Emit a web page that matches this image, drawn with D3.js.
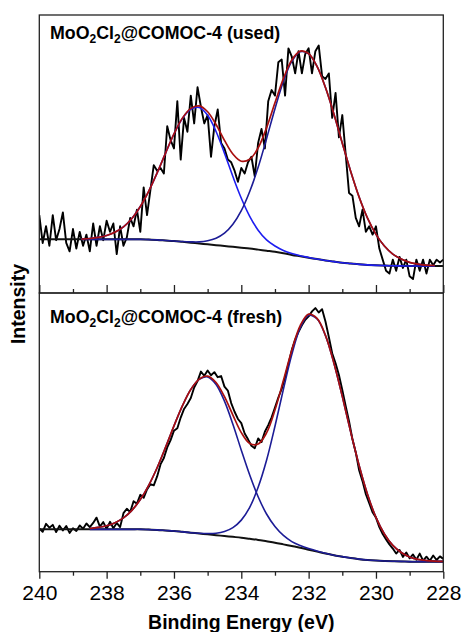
<!DOCTYPE html>
<html>
<head>
<meta charset="utf-8">
<script src="https://cdn.jsdelivr.net/npm/d3@7"></script>
<style>
  html, body { margin: 0; padding: 0; background: #fff; }
  svg { display: block; }
  text { font-family: Arial, "Liberation Sans", Helvetica, sans-serif; }
</style>
</head>
<body>
<svg id="chart" width="463" height="632"></svg>
<script>
// ---- Mo 3d spectra, measured counts (arbitrary units), 240.0 -> 228.0 eV in 0.1 eV steps ----
const rawStart = 240.0;
const rawStep = 0.1;

const rawUsed = [
  28, 18, 24, 17, 28, 19, 23, 29, 18, 15,
  23, 16, 22, 17, 21, 15, 25, 17, 24, 19,
  26, 22, 25, 14, 24, 17, 20, 27, 24, 30,
  22, 38, 28, 37, 46, 44, 45, 43, 60, 55,
  52, 69, 48, 63, 58, 71, 61, 74, 67, 61,
  64, 49, 60, 66, 54, 52, 48, 47, 44, 40,
  45, 43, 47, 49, 42, 54, 59, 52, 69, 73,
  71, 83, 84, 71, 88, 85, 79, 87, 79, 86,
  88, 79, 87, 89, 78, 77, 79, 63, 72, 56,
  64, 50, 36, 35, 27, 24, 30, 22, 24, 21,
  24, 16, 12, 8, 7, 12, 8, 13, 9, 12,
  6, 5, 12, 8, 12, 7, 12, 10, 12, 11,
  12
];

const rawFresh = [
  15.5, 14.3, 17.2, 15.8, 16.8, 14.2, 16.5, 14.8, 16.4, 13.9,
  15.6, 14.6, 16.6, 15.4, 17.3, 16.0, 17.5, 19.4, 16.2, 17.8,
  15.4, 17.9, 15.6, 17.5, 16.0, 21.0, 22.6, 21.4, 25.3, 24.4,
  27.6, 26.5, 29.5, 31.4, 31.0, 34.2, 38.5, 40.8, 44.6, 47.2,
  50.6, 51.5, 55.3, 58.4, 60.2, 62.3, 66.1, 68.4, 71.8, 70.3,
  72.2, 70.5, 71.6, 69.8, 70.2, 66.4, 65.0, 60.5, 57.4, 54.8,
  53.3, 49.6, 47.5, 45.2, 44.3, 47.8, 46.5, 50.2, 52.6, 55.4,
  58.9, 62.5, 65.6, 69.8, 74.5, 79.6, 83.3, 86.1, 88.4, 90.4,
  91.6, 93.4, 94.6, 93.0, 94.2, 89.8, 84.2, 78.4, 74.8, 70.6,
  65.2, 59.5, 54.0, 47.6, 42.8, 36.4, 32.5, 27.8, 24.6, 21.3,
  19.4, 16.0, 13.5, 11.6, 9.8, 8.3, 6.5, 7.8, 5.3, 6.9,
  4.8, 6.2, 4.3, 6.5, 4.0, 5.4, 3.9, 5.8, 4.2, 5.5,
  4.6
];

// ---- Fit results sampled every 0.25 eV (null = outside the fitted window) ----
const curveEnergy = [
  240, 239.75, 239.5, 239.25, 239, 238.75, 238.5, 238.25, 238, 237.75,
  237.5, 237.25, 237, 236.75, 236.5, 236.25, 236, 235.75, 235.5, 235.25,
  235, 234.75, 234.5, 234.25, 234, 233.75, 233.5, 233.25, 233, 232.75,
  232.5, 232.25, 232, 231.75, 231.5, 231.25, 231, 230.75, 230.5, 230.25,
  230, 229.75, 229.5, 229.25, 229, 228.75, 228.5, 228.25, 228
];

// used sample
const backgroundUsed = [
  19.3, 19.3, 19.3, 19.3, 19.3, 19.3, 19.3, 19.3, 19.3, 19.3,
  19.3, 19.3, 19.3, 19.2, 19.1, 18.9, 18.7, 18.4, 18.1, 17.8,
  17.5, 17.2, 16.9, 16.6, 16.3, 16.0, 15.6, 15.2, 14.8, 14.3,
  13.7, 13.2, 12.7, 12.2, 11.7, 11.3, 10.9, 10.6, 10.3, 10.1,
  9.95, 9.85, 9.8, 9.75, 9.7, 9.7, 9.7, 9.7, 9.7
];
const peakA_Used = [
  null, null, null, null, null, 19.4, 19.6, 20.0, 20.7, 21.9,
  23.8, 26.8, 31.1, 36.6, 43.2, 50.3, 57.2, 62.8, 66.1, 66.7,
  63.9, 58.1, 50.3, 41.9, 34.1, 27.6, 22.6, 19.1, 16.9, 15.3,
  14.2, 13.4, 12.8, 12.2, 11.7, 11.3, 10.9, 10.6, 10.3, 10.1,
  9.95, 9.85, 9.8, 9.75, 9.7, 9.7, 9.7, 9.7, null
];
const peakB_Used = [
  null, null, null, null, null, 19.3, 19.3, 19.3, 19.3, 19.3,
  19.3, 19.3, 19.3, 19.2, 19.1, 18.9, 18.7, 18.5, 18.4, 18.4,
  18.8, 19.7, 21.5, 24.7, 29.6, 36.5, 45.2, 55.5, 66.3, 76.1,
  83.3, 86.8, 86.0, 81.5, 73.9, 64.4, 53.9, 43.7, 34.5, 26.9,
  21.1, 16.9, 14.0, 12.2, 11.0, 10.4, 10.0, 9.9, null
];
const envelopeUsed = [
  null, null, null, null, null, 19.4, 19.6, 20.0, 20.7, 21.9,
  23.8, 26.8, 31.1, 36.6, 43.2, 50.3, 57.2, 62.9, 66.4, 67.3,
  65.2, 60.6, 54.9, 50.0, 47.4, 48.1, 52.2, 59.4, 68.4, 77.1,
  83.8, 87.0, 86.1, 81.5, 73.9, 64.4, 53.9, 43.7, 34.5, 26.9,
  21.1, 16.9, 14.0, 12.2, 11.0, 10.4, 10.0, 9.9, null
];

// fresh sample
const backgroundFresh = [
  15.2, 15.2, 15.2, 15.2, 15.2, 15.2, 15.2, 15.2, 15.2, 15.2,
  15.2, 15.2, 15.2, 15.1, 15.0, 14.8, 14.6, 14.3, 14.0, 13.7,
  13.4, 13.1, 12.8, 12.5, 12.2, 11.8, 11.4, 10.9, 10.4, 9.8,
  9.2, 8.6, 7.9, 7.2, 6.5, 5.9, 5.4, 4.9, 4.5, 4.2,
  4.0, 3.85, 3.75, 3.7, 3.6, 3.6, 3.6, 3.6, 3.6
];
const peakA_Fresh = [
  null, null, null, null, null, null, 15.5, 15.9, 16.5, 17.6,
  19.3, 22.0, 25.9, 31.0, 37.3, 44.6, 52.3, 59.5, 65.4, 69.0,
  69.9, 67.2, 61.2, 52.9, 43.6, 34.7, 26.9, 20.7, 16.2, 13.0,
  10.8, 9.4, 8.3, 7.4, 6.6, 5.9, 5.4, 4.9, 4.5, 4.2,
  4.0, 3.85, 3.75, 3.7, 3.6, 3.6, 3.6, 3.6, 3.6
];
const peakB_Fresh = [
  null, null, null, null, null, null, 15.2, 15.2, 15.2, 15.2,
  15.2, 15.2, 15.2, 15.1, 15.0, 14.8, 14.6, 14.3, 14.0, 13.8,
  13.7, 13.8, 14.4, 15.8, 18.5, 23.1, 30.3, 40.0, 52.2, 65.4,
  77.9, 87.5, 92.0, 90.7, 84.7, 74.9, 62.9, 50.1, 38.1, 27.7,
  19.5, 13.55, 9.45, 6.9, 5.3, 4.4, 4.0, 3.8, 3.7
];
const envelopeFresh = [
  null, null, null, null, null, null, 15.5, 15.9, 16.5, 17.6,
  19.3, 22.0, 25.9, 31.0, 37.3, 44.6, 52.3, 59.5, 65.4, 69.1,
  70.2, 67.9, 62.8, 56.2, 49.9, 46.0, 45.8, 49.8, 58.0, 68.6,
  79.5, 88.3, 92.4, 90.9, 84.8, 74.9, 62.9, 50.1, 38.1, 27.7,
  19.5, 13.55, 9.45, 6.9, 5.3, 4.4, 4.0, 3.8, 3.7
];

// ---- Axis ----
const xDomain = [240, 228];
const majorTicks = [240, 238, 236, 234, 232, 230, 228];
const minorTicks = [239, 237, 235, 233, 231, 229];
const xTitle = "Binding Energy (eV)";
const yTitle = "Intensity";

// ---- Layout ----
const svg = d3.select("#chart");
const left = 39.3, right = 443.3;
const topY = 15, midY = 293, bottomY = 571.7;

const x = d3.scaleLinear().domain(xDomain).range([left, right]);
const yUsed = d3.scaleLinear().domain([0, 100]).range([midY, topY]);
const yFresh = d3.scaleLinear().domain([0, 100]).range([bottomY, midY]);

const rawEnergy = rawUsed.map((_, i) => +(rawStart - i * rawStep).toFixed(2));

const defs = svg.append("defs");
defs.append("clipPath").attr("id", "clipUsed")
  .append("rect").attr("x", left).attr("y", topY).attr("width", right - left).attr("height", midY - topY);
defs.append("clipPath").attr("id", "clipFresh")
  .append("rect").attr("x", left).attr("y", midY).attr("width", right - left).attr("height", bottomY - midY);

const colors = {
  raw: "#000000",
  background: "#111111",
  envelope: "#A80F0F",
  peakBright: "#1E1EF0",
  peakDark: "#1C1C96"
};

function drawPanel(y, clipId, raw, bg, pA, pB, env, colA, colB) {
  const g = svg.append("g").attr("clip-path", `url(#${clipId})`);
  const rawLine = d3.line()
    .x((d, i) => x(rawEnergy[i]))
    .y(d => y(d))
    .curve(d3.curveLinear);
  const fitLine = vals => d3.line()
    .defined((d, i) => vals[i] !== null)
    .x((d, i) => x(curveEnergy[i]))
    .y((d, i) => y(vals[i]))
    .curve(d3.curveCatmullRom.alpha(0.5))(vals);

  g.append("path").attr("d", rawLine(raw))
    .attr("fill", "none").attr("stroke", colors.raw)
    .attr("stroke-width", 1.9).attr("stroke-linejoin", "round");
  g.append("path").attr("d", fitLine(bg))
    .attr("fill", "none").attr("stroke", colors.background).attr("stroke-width", 2);
  g.append("path").attr("d", fitLine(pA))
    .attr("fill", "none").attr("stroke", colA).attr("stroke-width", 1.6);
  g.append("path").attr("d", fitLine(pB))
    .attr("fill", "none").attr("stroke", colB).attr("stroke-width", 1.6);
  g.append("path").attr("d", fitLine(env))
    .attr("fill", "none").attr("stroke", colors.envelope).attr("stroke-width", 1.7);
}

drawPanel(yUsed, "clipUsed", rawUsed, backgroundUsed, peakA_Used, peakB_Used, envelopeUsed,
  colors.peakBright, colors.peakDark);
drawPanel(yFresh, "clipFresh", rawFresh, backgroundFresh, peakA_Fresh, peakB_Fresh, envelopeFresh,
  colors.peakDark, colors.peakDark);

// ---- Frames ----
const frame = svg.append("g").attr("fill", "none").attr("stroke", "#222").attr("stroke-width", 1.3);
frame.append("rect").attr("x", left).attr("y", topY).attr("width", right - left).attr("height", midY - topY);
frame.append("rect").attr("x", left).attr("y", midY).attr("width", right - left).attr("height", bottomY - midY);

// ---- Ticks between panels (pointing up) ----
const midMajor = svg.append("g").attr("transform", `translate(0,${midY})`)
  .call(d3.axisTop(x).tickValues(majorTicks).tickSize(8).tickFormat(""));
const midMinor = svg.append("g").attr("transform", `translate(0,${midY})`)
  .call(d3.axisTop(x).tickValues(minorTicks).tickSize(4).tickFormat(""));

// ---- Bottom axis ----
const botMajor = svg.append("g").attr("transform", `translate(0,${bottomY})`)
  .call(d3.axisBottom(x).tickValues(majorTicks).tickSize(7).tickPadding(6).tickFormat(d3.format("d")));
const botMinor = svg.append("g").attr("transform", `translate(0,${bottomY})`)
  .call(d3.axisBottom(x).tickValues(minorTicks).tickSize(4).tickFormat(""));

[midMajor, midMinor, botMajor, botMinor].forEach(a => {
  a.select(".domain").remove();
  a.selectAll(".tick line").attr("stroke", "#222").attr("stroke-width", 1.3);
});
botMajor.selectAll(".tick text")
  .attr("fill", "#000")
  .style("font-size", "21px")
  .style("font-family", "Arial, 'Liberation Sans', sans-serif");

// ---- Titles ----
svg.append("text")
  .attr("x", (left + right) / 2).attr("y", 629)
  .attr("text-anchor", "middle")
  .style("font-size", "19.5px").style("font-weight", "bold")
  .text(xTitle);

svg.append("text")
  .attr("transform", `translate(25,304) rotate(-90)`)
  .attr("text-anchor", "middle")
  .style("font-size", "19.5px").style("font-weight", "bold")
  .text(yTitle);

// ---- Sample labels ----
function sampleLabel(yBase, state) {
  const t = svg.append("text").attr("x", 50).attr("y", yBase)
    .style("font-size", "17.8px").style("font-weight", "bold");
  t.append("tspan").text("MoO");
  t.append("tspan").attr("dy", 4).style("font-size", "12px").text("2");
  t.append("tspan").attr("dy", -4).text("Cl");
  t.append("tspan").attr("dy", 4).style("font-size", "12px").text("2");
  t.append("tspan").attr("dy", -4).text(`@COMOC-4 (${state})`);
}
sampleLabel(39, "used");
sampleLabel(323, "fresh");
</script>
</body>
</html>
